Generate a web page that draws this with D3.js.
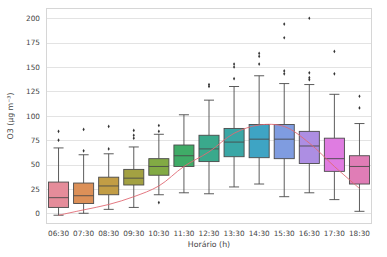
<!DOCTYPE html>
<html>
<head>
  <meta charset="UTF-8">
  <title>O3 por horário</title>
  <script src="https://cdn.jsdelivr.net/npm/d3@7/dist/d3.min.js"></script>
  <style>
    body { margin: 0; background: #fff; }
    text { font-family: "DejaVu Sans", sans-serif; }
    .tick text { fill: #444; font-size: 7.3px; }
    .grid line { stroke: #e3e3e3; stroke-width: 1px; shape-rendering: crispEdges; }
    .axis-label { fill: #444; font-size: 7.8px; }
  </style>
</head>
<body>
  <div id="chart"></div>
  <script>
    // hourly categories
    var hours = ["06:30", "07:30", "08:30", "09:30", "10:30", "11:30", "12:30",
                 "13:30", "14:30", "15:30", "16:30", "17:30", "18:30"];

    // box statistics (µg m-3)
    var whiskerLow  = [-2, 0, 4, 6, 19, 21, 20, 27, 30, 17, 21, 14, 2];
    var q1          = [6, 10, 19, 29, 39, 48, 53, 58, 57, 56, 51, 43, 30];
    var median      = [16, 18, 28, 36, 48, 59, 66, 73, 76, 76, 69, 56, 48];
    var q3          = [32, 31, 37, 45, 56, 70, 80, 87, 91, 91, 84, 77, 59];
    var whiskerHigh = [67, 60, 61, 68, 81, 101, 116, 130, 141, 133, 132, 122, 92];
    var outliers = [
      [75, 84], [64, 86], [66, 89], [77, 80, 85], [11, 84, 90], [],
      [130, 132], [138, 150, 153], [153, 161, 164], [143, 146, 180, 194],
      [137, 139, 144, 200], [143, 166], [108, 120]
    ];
    // red curve
    var trend = [-2, 3.5, 9, 17, 28, 48, 63, 82, 90.5, 89, 72, 48, 25.5];

    var yTicks = [0, 25, 50, 75, 100, 125, 150, 175, 200];

    var colors = ["#e58c9a", "#dc9058", "#c29d45", "#a3a142", "#82aa44", "#3fab67",
                  "#3aa98c", "#3aa7a6", "#3ea4c4", "#7f9ce0", "#ad8ee3", "#df7ce1", "#e07db6"];

    var width = 387, height = 257;
    var margin = { top: 8, right: 15, bottom: 33, left: 46 };
    var innerW = width - margin.left - margin.right;
    var innerH = height - margin.top - margin.bottom;

    var svg = d3.select("#chart").append("svg")
      .attr("width", width)
      .attr("height", height);

    var g = svg.append("g")
      .attr("transform", "translate(" + margin.left + "," + margin.top + ")");

    var x = d3.scaleBand().domain(hours).range([0, innerW]).padding(0);
    var y = d3.scaleLinear().domain([-11, 210.5]).range([innerH, 0]);

    /* grid */
    g.append("g").attr("class", "grid")
      .selectAll("line").data(yTicks).enter()
      .append("line")
      .attr("x1", 0).attr("x2", innerW)
      .attr("y1", function(d) { return Math.round(y(d)) + 0.5; })
      .attr("y2", function(d) { return Math.round(y(d)) + 0.5; });

    /* frame */
    g.append("rect")
      .attr("x", 0.5).attr("y", 0.5)
      .attr("width", innerW - 1).attr("height", innerH - 1)
      .attr("fill", "none").attr("stroke", "#d6d6d6");

    /* axes */
    var yAxis = d3.axisLeft(y).tickValues(yTicks).tickSize(0).tickPadding(6);
    g.append("g").call(yAxis).call(function(s) { s.select(".domain").remove(); });

    var xAxis = d3.axisBottom(x).tickSize(0).tickPadding(7);
    g.append("g").attr("transform", "translate(0," + innerH + ")")
      .call(xAxis).call(function(s) { s.select(".domain").remove(); });

    /* boxes */
    var bw = x.bandwidth() * 0.8;
    var edge = "#4a4a4a";
    var boxes = g.selectAll(".box").data(hours).enter()
      .append("g").attr("class", "box")
      .attr("transform", function(d) { return "translate(" + (x(d) + x.bandwidth() / 2) + ",0)"; });

    boxes.append("line")
      .attr("y1", function(d, i) { return y(whiskerHigh[i]); })
      .attr("y2", function(d, i) { return y(q3[i]); })
      .attr("stroke", edge).attr("stroke-width", 0.9);
    boxes.append("line")
      .attr("y1", function(d, i) { return y(q1[i]); })
      .attr("y2", function(d, i) { return y(whiskerLow[i]); })
      .attr("stroke", edge).attr("stroke-width", 0.9);
    [whiskerHigh, whiskerLow].forEach(function(arr) {
      boxes.append("line")
        .attr("x1", -bw / 4).attr("x2", bw / 4)
        .attr("y1", function(d, i) { return y(arr[i]); })
        .attr("y2", function(d, i) { return y(arr[i]); })
        .attr("stroke", edge).attr("stroke-width", 0.9);
    });
    boxes.append("rect")
      .attr("x", -bw / 2).attr("width", bw)
      .attr("y", function(d, i) { return y(q3[i]); })
      .attr("height", function(d, i) { return y(q1[i]) - y(q3[i]); })
      .attr("fill", function(d, i) { return colors[i]; })
      .attr("stroke", edge).attr("stroke-width", 0.9);
    boxes.append("line")
      .attr("x1", -bw / 2).attr("x2", bw / 2)
      .attr("y1", function(d, i) { return y(median[i]); })
      .attr("y2", function(d, i) { return y(median[i]); })
      .attr("stroke", edge).attr("stroke-width", 0.9);

    boxes.selectAll(".flier")
      .data(function(d, i) { return outliers[i]; }).enter()
      .append("path")
      .attr("class", "flier")
      .attr("d", d3.symbol().type(d3.symbolDiamond).size(4))
      .attr("transform", function(v) { return "translate(0," + y(v) + ")"; })
      .attr("fill", "#333");

    /* red curve */
    var line = d3.line()
      .x(function(d, i) { return x(hours[i]) + x.bandwidth() / 2; })
      .y(function(d) { return y(d); })
      .curve(d3.curveCatmullRom);
    g.append("path")
      .datum(trend)
      .attr("d", line)
      .attr("fill", "none")
      .attr("stroke", "#e06a74")
      .attr("stroke-width", 0.9);

    /* labels */
    svg.append("text").attr("class", "axis-label")
      .attr("text-anchor", "middle")
      .attr("x", margin.left + innerW / 2)
      .attr("y", 247)
      .text("Horário (h)");

    svg.append("text").attr("class", "axis-label")
      .attr("text-anchor", "middle")
      .attr("transform", "translate(13," + (margin.top + innerH / 2) + ") rotate(-90)")
      .text("O3 (µg m⁻³)");
  </script>
</body>
</html>
